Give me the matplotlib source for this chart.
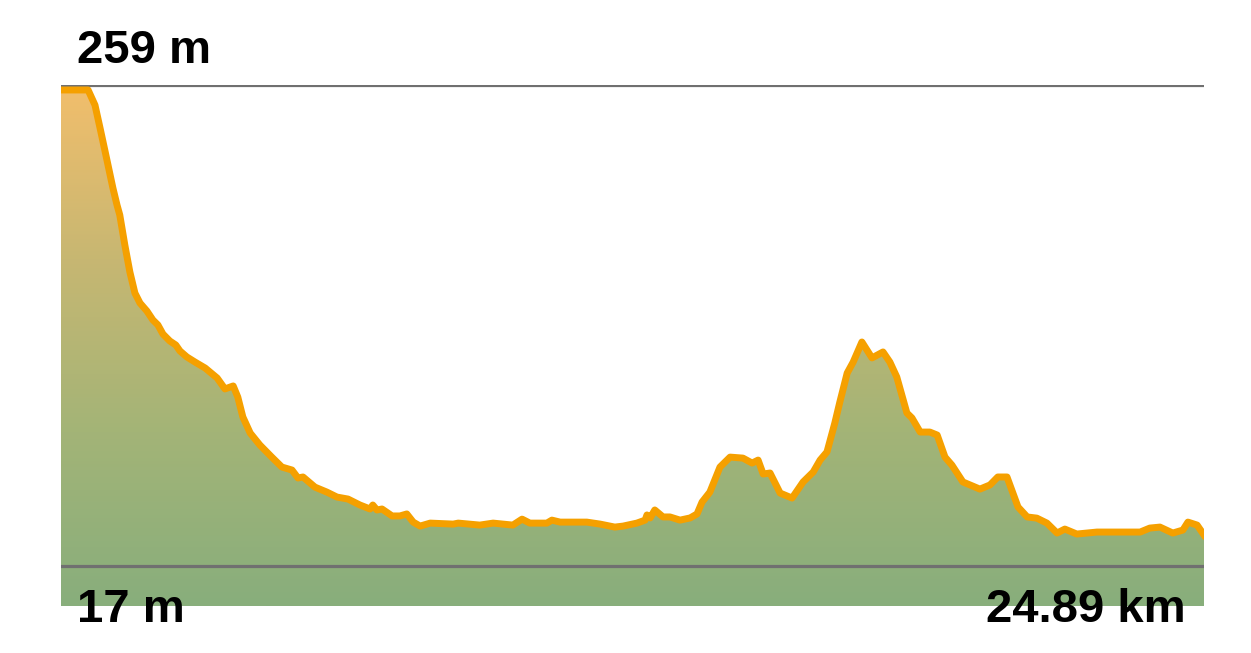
import numpy as np
import matplotlib.pyplot as plt
from matplotlib.colors import LinearSegmentedColormap

# distance along route (km) and elevation (m)
dist_km = [
    0.00, 0.59, 0.74, 0.85, 1.00, 1.13, 1.22, 1.28, 1.39, 1.50, 1.61, 1.72,
    1.87, 2.00, 2.11, 2.22, 2.37, 2.50, 2.59, 2.74, 2.92, 3.14, 3.40, 3.57,
    3.75, 3.85, 3.96, 4.12, 4.33, 4.59, 4.81, 5.03, 5.16, 5.27, 5.53, 5.79,
    6.01, 6.25, 6.51, 6.73, 6.79, 6.88, 6.99, 7.21, 7.38, 7.53, 7.67, 7.82,
    8.04, 8.54, 8.65, 9.12, 9.41, 9.84, 10.04, 10.21, 10.58, 10.69, 10.87,
    11.45, 11.74, 12.06, 12.24, 12.54, 12.72, 12.76, 12.83, 12.93, 13.11,
    13.26, 13.48, 13.70, 13.85, 13.96, 14.13, 14.35, 14.57, 14.85, 15.05,
    15.18, 15.29, 15.44, 15.66, 15.92, 16.16, 16.38, 16.53, 16.68, 16.85,
    16.96, 17.12, 17.25, 17.44, 17.66, 17.90, 18.05, 18.20, 18.42, 18.53,
    18.71, 18.92, 19.08, 19.25, 19.40, 19.64, 20.01, 20.23, 20.40, 20.60,
    20.84, 21.04, 21.25, 21.47, 21.69, 21.86, 22.12, 22.56, 23.06, 23.50,
    23.71, 23.93, 24.21, 24.43, 24.54, 24.74, 24.89,
]
elev_m = [
    256.5, 256.5, 248.9, 237.4, 221.3, 207.2, 198.6, 193.6, 178.5, 164.9,
    154.3, 149.3, 145.3, 140.8, 138.3, 133.7, 130.2, 128.2, 125.2, 122.2,
    119.6, 116.6, 111.6, 106.1, 107.6, 102.0, 92.0, 83.9, 77.9, 71.8, 66.8,
    65.3, 61.3, 61.8, 56.7, 54.2, 51.7, 50.7, 47.7, 45.7, 47.7, 45.2, 45.7,
    42.2, 42.2, 43.2, 39.1, 37.1, 38.6, 38.1, 38.6, 37.6, 38.6, 37.6, 40.6,
    38.6, 38.6, 40.1, 39.1, 39.1, 38.1, 36.6, 37.1, 38.6, 40.1, 42.7, 41.2,
    45.2, 41.7, 41.7, 40.1, 41.2, 43.2, 49.2, 54.2, 66.8, 71.8, 71.3, 68.8,
    70.3, 63.3, 63.8, 53.7, 51.2, 59.3, 64.3, 70.3, 74.4, 88.9, 99.5, 114.1,
    119.6, 129.7, 121.7, 124.7, 119.6, 112.1, 94.0, 91.5, 84.4, 84.4, 82.9,
    71.8, 67.8, 59.3, 55.7, 57.8, 61.8, 61.8, 46.7, 41.7, 41.1, 38.6, 33.6,
    35.6, 33.1, 34.1, 34.1, 34.1, 36.1, 36.6, 33.6, 35.1, 39.1, 37.6, 32.6,
]
max_elev = 259
min_elev = 17
total_km = 24.89
y_floor = -3.1

fig = plt.figure(figsize=(12.51, 6.53), dpi=100)
ax = fig.add_axes([61 / 1251, 47 / 653, 1143 / 1251, 521 / 653])
ax.set_xlim(0, total_km)
ax.set_ylim(y_floor, max_elev)
ax.axis("off")

# gradient fill under the profile: orange at the top, green at the bottom
cmap = LinearSegmentedColormap.from_list("elev", ["#f2be6c", "#c7b772", "#a3b477", "#88ae7c"])
grad = np.linspace(0, 1, 256).reshape(-1, 1)
img = ax.imshow(grad, cmap=cmap, aspect="auto", extent=[0, total_km, y_floor, max_elev],
                origin="upper", zorder=1)
poly = ax.fill_between(dist_km, elev_m, y_floor, color="none", lw=0)
img.set_clip_path(poly.get_paths()[0], transform=ax.transData)

ax.axhline(max_elev, color="#707070", lw=2.3, zorder=2)
ax.axhline(min_elev, color="#707070", lw=2.3, zorder=2)

ax.plot(dist_km, elev_m, color="#f5a000", lw=5, solid_joinstyle="round", zorder=3)

font = dict(family=["Liberation Sans", "DejaVu Sans"], fontsize=34, fontweight="bold", color="black")
fig.text(77 / 1251, 1 - 63 / 653, f"{max_elev} m", ha="left", va="baseline", **font)
fig.text(77 / 1251, 1 - 622 / 653, f"{min_elev} m", ha="left", va="baseline", **font)
fig.text(1186 / 1251, 1 - 622 / 653, f"{total_km} km", ha="right", va="baseline", **font)

fig.savefig("out.png", dpi=100)
